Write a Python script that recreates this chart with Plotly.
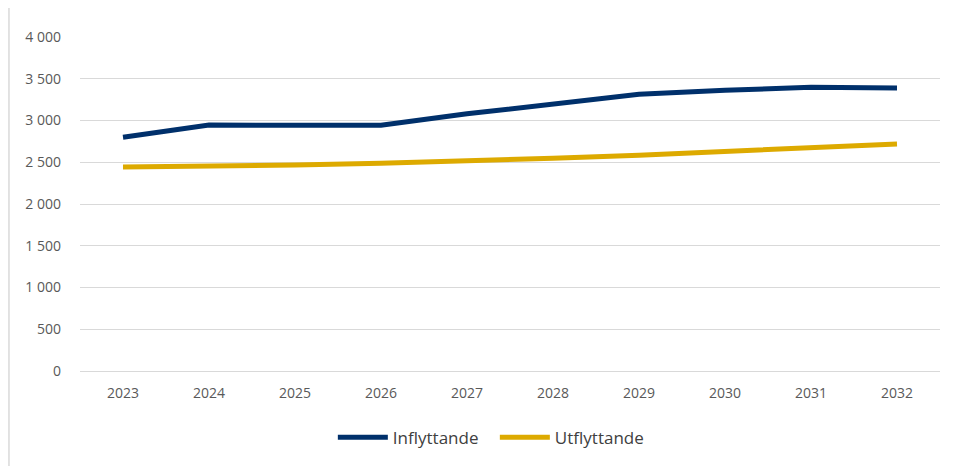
import plotly.graph_objects as go

years = ['2023', '2024', '2025', '2026', '2027', '2028', '2029', '2030', '2031', '2032']
inflyttande = [2800, 2945, 2942, 2942, 3080, 3195, 3315, 3362, 3398, 3390]
utflyttande = [2443, 2452, 2467, 2488, 2512, 2548, 2585, 2632, 2672, 2718]

fig = go.Figure()
fig.add_trace(go.Scatter(x=years, y=inflyttande, mode='lines', name='Inflyttande',
                         line=dict(color='#00306B', width=5)))
fig.add_trace(go.Scatter(x=years, y=utflyttande, mode='lines', name='Utflyttande',
                         line=dict(color='#DDAA00', width=5)))

# page body has an 8px margin, so the figure is sized to the visible area
fig.update_layout(
    width=949, height=458,
    margin=dict(l=72, r=17, t=29, b=95, autoexpand=False),
    paper_bgcolor='white', plot_bgcolor='white',
    font=dict(family='Open Sans', size=14, color='#595959'),
    legend=dict(orientation='h', x=0.294, xanchor='left', y=-0.2, yanchor='middle',
                font=dict(size=17, color='#404040'), itemwidth=50, entrywidth=97),
    separators=', ',
)
fig.update_xaxes(type='category', range=[-0.5, 9.5], showgrid=False, showline=False,
                 ticks='', ticklabelstandoff=12)
fig.update_yaxes(range=[0, 4000], dtick=500, tickformat=',d',
                 showgrid=True, gridcolor='#D9D9D9', gridwidth=1.3, zeroline=True,
                 zerolinecolor='#D9D9D9', zerolinewidth=1.3, ticks='', ticklabelstandoff=18)
fig.add_shape(type='line', xref='paper', yref='paper', x0=-0.0826, x1=-0.0826, y0=-0.3, y1=1.12,
              line=dict(color='#D9D9D9', width=1.5))

fig.write_html("out.html")
